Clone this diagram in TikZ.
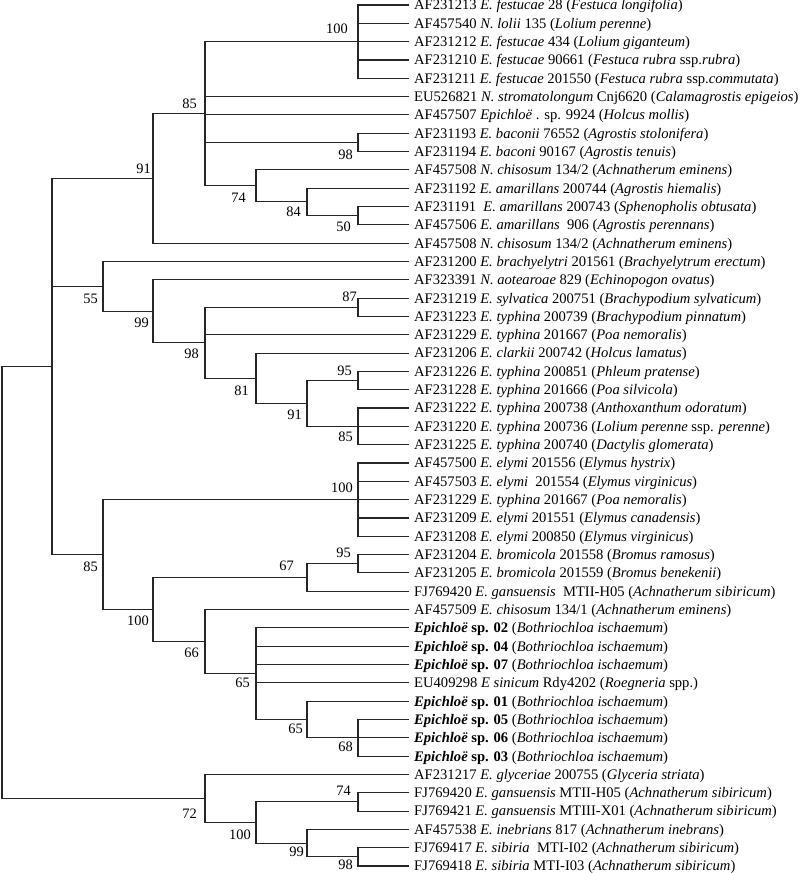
\documentclass[tikz,border=0pt]{standalone}
\usepackage{fontspec}
\setmainfont{Liberation Serif}
\usetikzlibrary{positioning}
\tikzset{
  branch/.style={line width=1.1pt, black!85},
  leaf/.style={anchor=west, inner xsep=5pt, inner ysep=0pt, text height=9.8pt, text depth=0pt, font=\fontsize{14.6}{16}\selectfont},
  supabove/.style={anchor=south east, inner sep=0pt, xshift=-5pt, yshift=6pt, font=\fontsize{14.4}{16}\selectfont},
  supbelow/.style={anchor=north east, inner sep=0pt, xshift=-5pt, yshift=-6pt, font=\fontsize{14.4}{16}\selectfont}
}
\newcommand{\epi}[1]{\textbf{\textit{Epichloë}} \textbf{sp. #1} (\textit{Bothriochloa ischaemum})}

\begin{document}
\begin{tikzpicture}[x=1pt, y=-18.32pt]
\useasboundingbox (0,-0.273) rectangle (800,47.38);

% Leaves
\node[leaf] (l1) at (409,0) {AF231213 \textit{E. festucae} 28 (\textit{Festuca longifolia})};
\node[leaf] (l2) at (409,1) {AF457540 \textit{N. lolii} 135 (\textit{Lolium perenne})};
\node[leaf] (l3) at (409,2) {AF231212 \textit{E. festucae} 434 (\textit{Lolium giganteum})};
\node[leaf] (l4) at (409,3) {AF231210 \textit{E. festucae} 90661 (\textit{Festuca rubra} ssp.\textit{rubra})};
\node[leaf] (l5) at (409,4) {AF231211 \textit{E. festucae} 201550 (\textit{Festuca rubra} ssp.\textit{commutata})};
\node[leaf] (l6) at (409,5) {EU526821 \textit{N. stromatolongum} Cnj6620 (\textit{Calamagrostis epigeios})};
\node[leaf] (l7) at (409,6) {AF457507 \textit{Epichloë} . sp. 9924 (\textit{Holcus mollis})};
\node[leaf] (l8) at (409,7) {AF231193 \textit{E. baconii} 76552 (\textit{Agrostis stolonifera})};
\node[leaf] (l9) at (409,8) {AF231194 \textit{E. baconi} 90167 (\textit{Agrostis tenuis})};
\node[leaf] (l10) at (409,9) {AF457508 \textit{N. chisosum} 134/2 (\textit{Achnatherum eminens})};
\node[leaf] (l11) at (409,10) {AF231192 \textit{E. amarillans} 200744 (\textit{Agrostis hiemalis})};
\node[leaf] (l12) at (409,11) {AF231191\ \ \textit{E. amarillans} 200743 (\textit{Sphenopholis obtusata})};
\node[leaf] (l13) at (409,12) {AF457506 \textit{E. amarillans}\ \ 906 (\textit{Agrostis perennans})};
\node[leaf] (l14) at (409,13) {AF457508 \textit{N. chisosum} 134/2 (\textit{Achnatherum eminens})};
\node[leaf] (l15) at (409,14) {AF231200 \textit{E. brachyelytri} 201561 (\textit{Brachyelytrum erectum})};
\node[leaf] (l16) at (409,15) {AF323391 \textit{N. aotearoae} 829 (\textit{Echinopogon ovatus})};
\node[leaf] (l17) at (409,16) {AF231219 \textit{E. sylvatica} 200751 (\textit{Brachypodium sylvaticum})};
\node[leaf] (l18) at (409,17) {AF231223 \textit{E. typhina} 200739 (\textit{Brachypodium pinnatum})};
\node[leaf] (l19) at (409,18) {AF231229 \textit{E. typhina} 201667 (\textit{Poa nemoralis})};
\node[leaf] (l20) at (409,19) {AF231206 \textit{E. clarkii} 200742 (\textit{Holcus lamatus})};
\node[leaf] (l21) at (409,20) {AF231226 \textit{E. typhina} 200851 (\textit{Phleum pratense})};
\node[leaf] (l22) at (409,21) {AF231228 \textit{E. typhina} 201666 (\textit{Poa silvicola})};
\node[leaf] (l23) at (409,22) {AF231222 \textit{E. typhina} 200738 (\textit{Anthoxanthum odoratum})};
\node[leaf] (l24) at (409,23) {AF231220 \textit{E. typhina} 200736 (\textit{Lolium perenne} ssp. \textit{perenne})};
\node[leaf] (l25) at (409,24) {AF231225 \textit{E. typhina} 200740 (\textit{Dactylis glomerata})};
\node[leaf] (l26) at (409,25) {AF457500 \textit{E. elymi} 201556 (\textit{Elymus hystrix})};
\node[leaf] (l27) at (409,26) {AF457503 \textit{E. elymi}\ \ 201554 (\textit{Elymus virginicus})};
\node[leaf] (l28) at (409,27) {AF231229 \textit{E. typhina} 201667 (\textit{Poa nemoralis})};
\node[leaf] (l29) at (409,28) {AF231209 \textit{E. elymi} 201551 (\textit{Elymus canadensis})};
\node[leaf] (l30) at (409,29) {AF231208 \textit{E. elymi} 200850 (\textit{Elymus virginicus})};
\node[leaf] (l31) at (409,30) {AF231204 \textit{E. bromicola} 201558 (\textit{Bromus ramosus})};
\node[leaf] (l32) at (409,31) {AF231205 \textit{E. bromicola} 201559 (\textit{Bromus benekenii})};
\node[leaf] (l33) at (409,32) {FJ769420 \textit{E. gansuensis}\ \ MTII-H05 (\textit{Achnatherum sibiricum})};
\node[leaf] (l34) at (409,33) {AF457509 \textit{E. chisosum} 134/1 (\textit{Achnatherum eminens})};
\node[leaf] (l35) at (409,34) {\epi{02}};
\node[leaf] (l36) at (409,35) {\epi{04}};
\node[leaf] (l37) at (409,36) {\epi{07}};
\node[leaf] (l38) at (409,37) {EU409298 \textit{E sinicum} Rdy4202 (\textit{Roegneria} spp.)};
\node[leaf] (l39) at (409,38) {\epi{01}};
\node[leaf] (l40) at (409,39) {\epi{05}};
\node[leaf] (l41) at (409,40) {\epi{06}};
\node[leaf] (l42) at (409,41) {\epi{03}};
\node[leaf] (l43) at (409,42) {AF231217 \textit{E. glyceriae} 200755 (\textit{Glyceria striata})};
\node[leaf] (l44) at (409,43) {FJ769420 \textit{E. gansuensis} MTII-H05 (\textit{Achnatherum sibiricum})};
\node[leaf] (l45) at (409,44) {FJ769421 \textit{E. gansuensis} MTIII-X01 (\textit{Achnatherum sibiricum})};
\node[leaf] (l46) at (409,45) {AF457538 \textit{E. inebrians} 817 (\textit{Achnatherum inebrans})};
\node[leaf] (l47) at (409,46) {FJ769417 \textit{E. sibiria}\ \ MTI-I02 (\textit{Achnatherum sibiricum})};
\node[leaf] (l48) at (409,47) {FJ769418 \textit{E. sibiria} MTI-I03 (\textit{Achnatherum sibiricum})};

% Internal nodes
\coordinate (root) at (2,31.5234);
\coordinate (nA) at (52,19.7344);
\coordinate (n91a) at (153,9.4688);
\coordinate (n85a) at (205,5.9375);
\coordinate (n100a) at (358,2);
\coordinate (n98a) at (358,7.5);
\coordinate (n74a) at (256,9.875);
\coordinate (n84) at (307,10.75);
\coordinate (n50) at (358,11.5);
\coordinate (n55) at (103,15.3594);
\coordinate (n99a) at (153,16.7188);
\coordinate (n98b) at (205,18.4375);
\coordinate (n87) at (358,16.5);
\coordinate (n81) at (256,20.375);
\coordinate (n91b) at (307,21.75);
\coordinate (n95a) at (358,20.5);
\coordinate (n85b) at (358,23);
\coordinate (n85c) at (103,30);
\coordinate (n100b) at (358,27);
\coordinate (n100c) at (153,33);
\coordinate (n67) at (307,31.25);
\coordinate (n95b) at (358,30.5);
\coordinate (n66) at (205,34.75);
\coordinate (n65a) at (256,36.5);
\coordinate (n65b) at (307,39);
\coordinate (n68) at (358,40);
\coordinate (n72) at (205,43.3125);
\coordinate (n100d) at (256,44.625);
\coordinate (n74b) at (358,43.5);
\coordinate (n99b) at (307,45.75);
\coordinate (n98c) at (358,46.5);

% Branches
\draw[branch] (root) |- (nA);
\draw[branch] (root) |- (n72);
\draw[branch] (nA) |- (n91a);
\draw[branch] (nA) |- (n55);
\draw[branch] (nA) |- (n85c);
\draw[branch] (n91a) |- (n85a);
\draw[branch] (n91a) |- (l14);
\draw[branch] (n85a) |- (n100a);
\draw[branch] (n85a) |- (l6);
\draw[branch] (n85a) |- (l7);
\draw[branch] (n85a) |- (n98a);
\draw[branch] (n85a) |- (n74a);
\draw[branch] (n100a) |- (l1);
\draw[branch] (n100a) |- (l2);
\draw[branch] (n100a) |- (l3);
\draw[branch] (n100a) |- (l4);
\draw[branch] (n100a) |- (l5);
\draw[branch] (n98a) |- (l8);
\draw[branch] (n98a) |- (l9);
\draw[branch] (n74a) |- (l10);
\draw[branch] (n74a) |- (n84);
\draw[branch] (n84) |- (l11);
\draw[branch] (n84) |- (n50);
\draw[branch] (n50) |- (l12);
\draw[branch] (n50) |- (l13);
\draw[branch] (n55) |- (l15);
\draw[branch] (n55) |- (n99a);
\draw[branch] (n99a) |- (l16);
\draw[branch] (n99a) |- (n98b);
\draw[branch] (n98b) |- (n87);
\draw[branch] (n98b) |- (l19);
\draw[branch] (n98b) |- (n81);
\draw[branch] (n87) |- (l17);
\draw[branch] (n87) |- (l18);
\draw[branch] (n81) |- (l20);
\draw[branch] (n81) |- (n91b);
\draw[branch] (n91b) |- (n95a);
\draw[branch] (n91b) |- (n85b);
\draw[branch] (n95a) |- (l21);
\draw[branch] (n95a) |- (l22);
\draw[branch] (n85b) |- (l23);
\draw[branch] (n85b) |- (l24);
\draw[branch] (n85b) |- (l25);
\draw[branch] (n85c) |- (n100b);
\draw[branch] (n85c) |- (n100c);
\draw[branch] (n100b) |- (l26);
\draw[branch] (n100b) |- (l27);
\draw[branch] (n100b) |- (l28);
\draw[branch] (n100b) |- (l29);
\draw[branch] (n100b) |- (l30);
\draw[branch] (n100c) |- (n67);
\draw[branch] (n100c) |- (n66);
\draw[branch] (n67) |- (n95b);
\draw[branch] (n67) |- (l33);
\draw[branch] (n95b) |- (l31);
\draw[branch] (n95b) |- (l32);
\draw[branch] (n66) |- (l34);
\draw[branch] (n66) |- (n65a);
\draw[branch] (n65a) |- (l35);
\draw[branch] (n65a) |- (l36);
\draw[branch] (n65a) |- (l37);
\draw[branch] (n65a) |- (l38);
\draw[branch] (n65a) |- (n65b);
\draw[branch] (n65b) |- (l39);
\draw[branch] (n65b) |- (n68);
\draw[branch] (n68) |- (l40);
\draw[branch] (n68) |- (l41);
\draw[branch] (n68) |- (l42);
\draw[branch] (n72) |- (l43);
\draw[branch] (n72) |- (n100d);
\draw[branch] (n100d) |- (n74b);
\draw[branch] (n100d) |- (n99b);
\draw[branch] (n74b) |- (l44);
\draw[branch] (n74b) |- (l45);
\draw[branch] (n99b) |- (l46);
\draw[branch] (n99b) |- (n98c);
\draw[branch] (n98c) |- (l47);
\draw[branch] (n98c) |- (l48);

% Bootstrap values
\node[supabove, xshift=-5pt, yshift=2pt] (b100a) at (n100a) {100};
\node[supabove, xshift=-3pt, yshift=-1pt] (b85a) at (n85a) {85};
\node[supabove, xshift=3pt, yshift=-1pt] (b91a) at (n91a) {91};
\node[supbelow, yshift=-1pt] (b98a) at (n98a) {98};
\node[supbelow, xshift=-5pt, yshift=-1pt] (b74a) at (n74a) {74};
\node[supbelow, xshift=-1pt, yshift=1pt] (b84) at (n84) {84};
\node[supbelow, xshift=-2pt] (b50) at (n50) {50};
\node[supbelow, yshift=-1pt] (b55) at (n55) {55};
\node[supbelow, xshift=1pt] (b99a) at (n99a) {99};
\node[supbelow, xshift=-1pt] (b98b) at (n98b) {98};
\node[supabove, xshift=4pt, yshift=-1pt] (b87) at (n87) {87};
\node[supbelow, xshift=-2pt, yshift=-1pt] (b81) at (n81) {81};
\node[supabove, xshift=-1pt, yshift=-1pt] (b95a) at (n95a) {95};
\node[supbelow] (b91b) at (n91b) {91};
\node[supbelow, yshift=1pt] (b85b) at (n85b) {85};
\node[supabove, yshift=1pt] (b100b) at (n100b) {100};
\node[supbelow, yshift=-1pt] (b85c) at (n85c) {85};
\node[supabove, xshift=-2pt] (b95b) at (n95b) {95};
\node[supabove, xshift=-8pt, yshift=1pt] (b67) at (n67) {67};
\node[supbelow, xshift=1pt] (b100c) at (n100c) {100};
\node[supbelow, xshift=-1pt] (b66) at (n66) {66};
\node[supbelow, xshift=-1pt, yshift=2pt] (b65a) at (n65a) {65};
\node[supbelow, xshift=1pt, yshift=2pt] (b65b) at (n65b) {65};
\node[supbelow, yshift=2pt] (b68) at (n68) {68};
\node[supbelow, xshift=-3pt, yshift=-4pt] (b72) at (n72) {72};
\node[supbelow, yshift=-1pt] (b100d) at (n100d) {100};
\node[supabove, xshift=-2pt] (b74b) at (n74b) {74};
\node[supbelow, xshift=2pt, yshift=2pt] (b99b) at (n99b) {99};
\node[supbelow, yshift=3pt] (b98c) at (n98c) {98};
\end{tikzpicture}
\end{document}
